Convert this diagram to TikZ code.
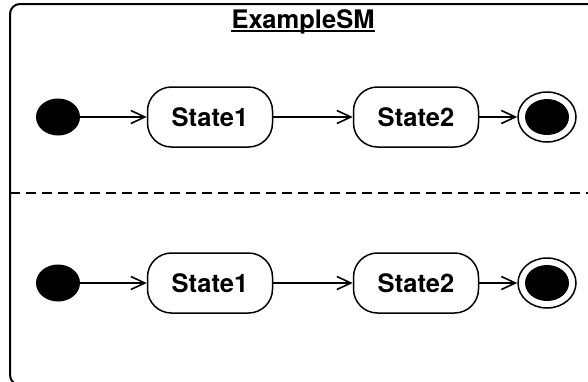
\documentclass[tikz,border=0pt]{standalone}
\usepackage{fontspec}
\setmainfont{TeX Gyre Heros}
\usetikzlibrary{arrows.meta,shapes.geometric}

\tikzset{
  state/.style={draw, line width=1.5pt, rounded corners=24pt, minimum width=125pt, minimum height=60pt, inner sep=0pt, font=\fontsize{25.5}{30}\selectfont\bfseries},
  initdot/.style={ellipse, fill=black, minimum width=44pt, minimum height=37pt, inner sep=0pt},
  finring/.style={ellipse, draw, line width=1.5pt, minimum width=58pt, minimum height=50pt, inner sep=0pt},
  findot/.style={ellipse, fill=black, minimum width=44pt, minimum height=36pt, inner sep=0pt},
  trans/.style={line width=1.6pt, -{Straight Barb[length=14pt,width=13pt,line width=1.6pt]}}
}

\begin{document}
\begin{tikzpicture}[x=1pt,y=-1pt]
            \useasboundingbox (0,0) rectangle (588,381);
            \clip (0,0) rectangle (588,381);

            \draw[line width=2pt, rounded corners=10pt] (10,4) rectangle (620,385);
            \draw[line width=1.8pt, dash pattern=on 10pt off 6pt] (10,193) -- (588,193);

            \node[anchor=base, inner sep=0pt, font=\fontsize{25.5}{30}\selectfont\bfseries] (title) at (303,28) {ExampleSM};
            \draw[line width=1.8pt] ([yshift=-3pt]title.base west) -- ([yshift=-3pt]title.base east);

            % upper region
            \node[initdot] (ini1) at (58,117) {};
            \node[state] (s11) at (210,117) {State1};
            \node[state] (s21) at (416,117) {State2};
            \node[finring] (fin1) at (547,117) {};
            \node[findot] (fdot1) at (547,117) {};
            \draw[trans] (ini1) -- (s11);
            \draw[trans] (s11) -- (s21);
            \draw[trans] (s21) -- (fin1);

            % lower region
            \node[initdot] (ini2) at (58,283) {};
            \node[state] (s12) at (210,283) {State1};
            \node[state] (s22) at (416,283) {State2};
            \node[finring] (fin2) at (547,283) {};
            \node[findot] (fdot2) at (547,283) {};
            \draw[trans] (ini2) -- (s12);
            \draw[trans] (s12) -- (s22);
            \draw[trans] (s22) -- (fin2);
        \end{tikzpicture}
\end{document}
